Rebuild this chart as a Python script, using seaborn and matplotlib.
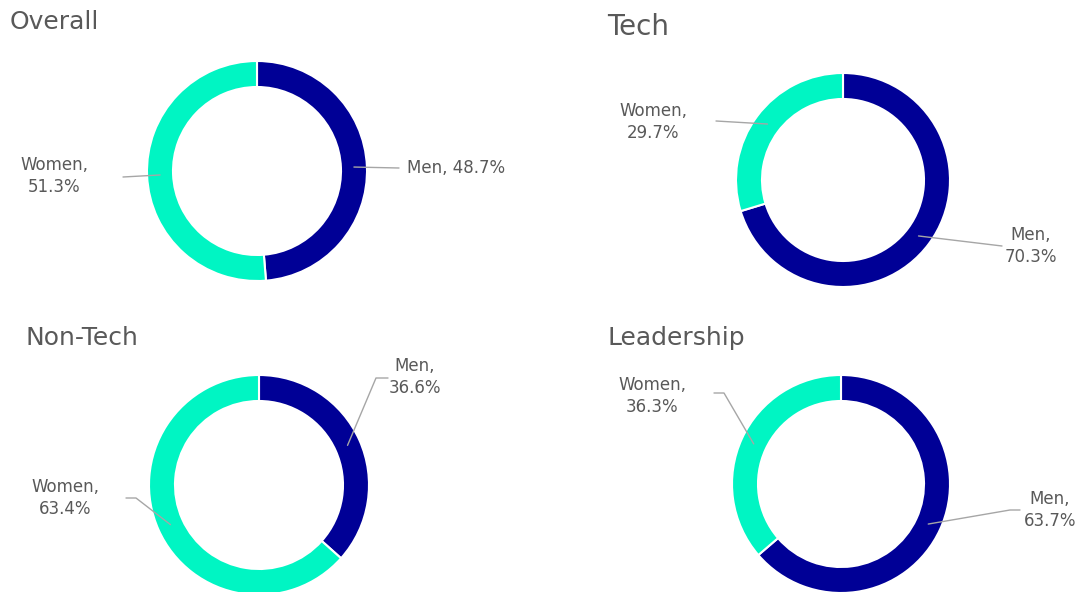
import matplotlib
matplotlib.use("Agg")
import numpy as np
import matplotlib.pyplot as plt
import seaborn as sns

# data
panels = ["Overall", "Tech", "Non-Tech", "Leadership"]
segments = ["Men", "Women"]
men_share = [48.7, 70.3, 36.6, 63.7]
women_share = [51.3, 29.7, 63.4, 36.3]

sns.set_theme(style="white")
plt.rcParams['font.family'] = ['DejaVu Sans']

W, H = 1077, 592
NAVY = "#000096"
MINT = "#00F5C3"
TEXT = "#595959"
LINE = "#A6A6A6"
colors = sns.color_palette([NAVY, MINT])

# layout in image pixels (y grows downward)
layout = {
    "Overall": dict(center=(257, 171), r=110, title=(10, 22, 18),
                    labels={"Men": dict(xy=(407, 168), ha="left", one_line=True, path=[(399, 168)]),
                            "Women": dict(xy=(54, 176), ha="center", path=[(123, 177)])}),
    "Tech": dict(center=(843, 180), r=107, title=(607, 27, 20),
                 labels={"Women": dict(xy=(653, 122), ha="center", path=[(716, 121)]),
                         "Men": dict(xy=(1031, 246), ha="center", path=[(1002, 246)])}),
    "Non-Tech": dict(center=(259, 485), r=110, title=(25, 338, 18),
                     labels={"Men": dict(xy=(415, 377), ha="center", path=[(376, 378), (388, 378)]),
                             "Women": dict(xy=(65, 498), ha="center", path=[(136, 498), (126, 498)])}),
    "Leadership": dict(center=(841, 484), r=109, title=(607, 338, 18),
                       labels={"Women": dict(xy=(652, 396), ha="center", path=[(724, 393), (714, 393)]),
                               "Men": dict(xy=(1076, 510), ha="right", path=[(1010, 510), (1020, 510)])}),
}

RING = 26

fig = plt.figure(figsize=(W / 100, H / 100), dpi=100)
ax = fig.add_axes([0, 0, 1, 1])
ax.set_xlim(0, W)
ax.set_ylim(0, H)
ax.set_aspect("equal")
ax.axis("off")


def fy(y):
    return H - y


for name, men, women in zip(panels, men_share, women_share):
    cfg = layout[name]
    cx, cy = cfg["center"]
    r = cfg["r"]
    vals = [men, women]
    ax.pie(vals, colors=colors, startangle=90, counterclock=False,
           center=(cx, fy(cy)), radius=r,
           wedgeprops=dict(width=RING, edgecolor="white", linewidth=1.5))

    tx, ty, ts = cfg["title"]
    ax.text(tx, fy(ty), name, fontsize=ts, color=TEXT, ha="left", va="center")

    cum = 0.0
    total = sum(vals)
    for seg, v in zip(segments, vals):
        frac = v / total
        theta = np.deg2rad(90 - 360 * (cum + frac / 2))
        cum += frac
        lab = cfg["labels"][seg]
        rr = r - RING / 2
        ax_x = cx + rr * np.cos(theta)
        ax_y = fy(cy) + rr * np.sin(theta)
        xs = [ax_x] + [p[0] for p in lab["path"]]
        ys = [ax_y] + [fy(p[1]) for p in lab["path"]]
        ax.plot(xs, ys, color=LINE, lw=1)
        sep = " " if lab.get("one_line") else "\n"
        ax.text(lab["xy"][0], fy(lab["xy"][1]), f"{seg},{sep}{v:.1f}%",
                fontsize=12, color=TEXT, ha=lab["ha"], va="center",
                linespacing=1.35, multialignment="center")

ax.set_xlim(0, W)
ax.set_ylim(0, H)
fig.savefig("out.png", dpi=100, facecolor="white")
